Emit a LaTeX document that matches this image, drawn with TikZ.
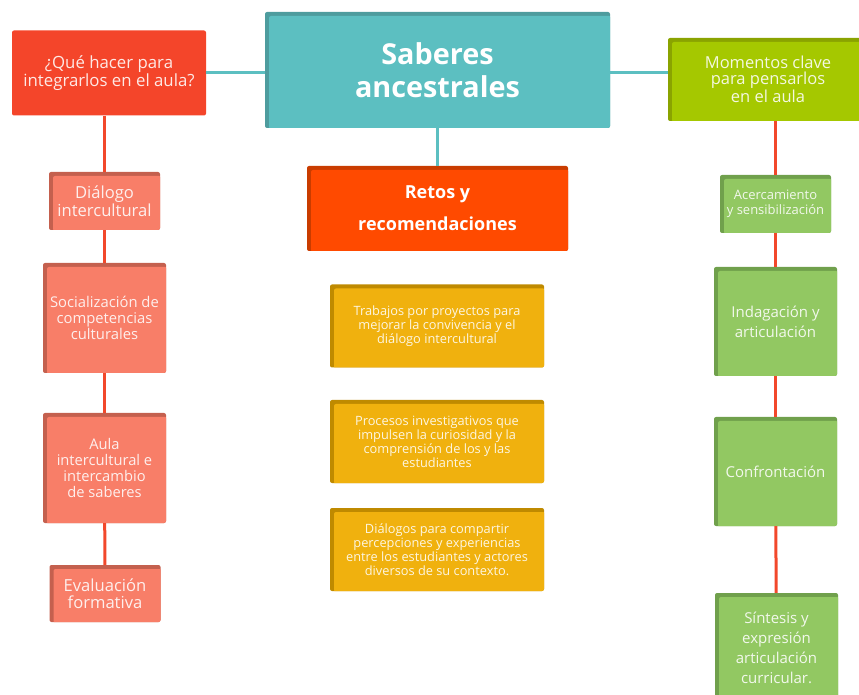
\documentclass[tikz,border=0pt]{standalone}
\usepackage{fontspec}
\setmainfont{Open Sans}

\definecolor{tealA}{HTML}{5CBFC1}
\definecolor{tealB}{HTML}{4E9C9E}
\definecolor{redA}{HTML}{F4452A}
\definecolor{lineRed}{HTML}{F2482B}
\definecolor{salA}{HTML}{F87E68}
\definecolor{salB}{HTML}{C4604E}
\definecolor{limeA}{HTML}{A5C800}
\definecolor{limeB}{HTML}{8AA300}
\definecolor{orA}{HTML}{FF4A00}
\definecolor{orB}{HTML}{C93C00}
\definecolor{yelA}{HTML}{F0B10E}
\definecolor{yelB}{HTML}{BF8A00}
\definecolor{grA}{HTML}{92C862}
\definecolor{grB}{HTML}{70A04C}

\tikzset{
  card/.style 2 args={fill=#2, rounded corners=2pt, align=center, inner sep=0pt,
    text=white!88!#1,
    path picture={\fill[#1] ([xshift=4pt,yshift=-4pt]path picture bounding box.north west)
      rectangle ([xshift=1pt,yshift=-1pt]path picture bounding box.south east);}},
  fs/.style 2 args={font=\fontsize{#1}{#2}\selectfont},
  fsb/.style 2 args={font=\fontsize{#1}{#2}\selectfont\bfseries},
  link/.style={line width=3pt, color=#1}
}

\begin{document}
\begin{tikzpicture}[x=1pt,y=1pt]

\clip (0,0) rectangle (859,694);

\node[card={tealA}{tealB}, minimum width=345pt, minimum height=116pt, fsb={28.8}{33}, text=white]
  (main) at (437.5,624) {Saberes\\ancestrales};
\node[fill=redA, rounded corners=2pt, align=center, text=white!88!redA, minimum width=194pt,
  minimum height=85pt, fs={16.8}{16}] (que) at (109,621) {¿Qué hacer para\\integrarlos en el aula?};
\node[card={limeA}{limeB}, minimum width=200pt, minimum height=83pt, fs={16.5}{16}]
  (momentos) at (768,614.5) {Momentos clave\\para pensarlos\\en el aula};
\node[card={orA}{orB}, minimum width=261pt, minimum height=85pt, fsb={18}{32}, text=white]
  (retos) at (437.5,485.5) {Retos y\\recomendaciones};

\node[card={salA}{salB}, minimum width=111pt, minimum height=58pt, fs={16.6}{18}]
  (dialogo) at (104.5,493) {Diálogo\\intercultural};
\node[card={salA}{salB}, minimum width=123pt, minimum height=110pt, fs={14.8}{16}]
  (social) at (104.5,376) {Socialización de\\competencias\\culturales};
\node[card={salA}{salB}, minimum width=123pt, minimum height=110pt, fs={14.7}{16}]
  (aula) at (104.5,226) {Aula\\intercultural e\\intercambio\\de saberes};
\node[card={salA}{salB}, minimum width=111pt, minimum height=57pt, fs={16.6}{17}]
  (eval) at (105,100.5) {Evaluación\\formativa};

\foreach \name/\y/\txt in {
  trabajos/368/{Trabajos por proyectos para\\mejorar la convivencia y el\\diálogo intercultural},
  procesos/252.5/{Procesos investigativos que\\impulsen la curiosidad y la\\comprensión de los y las\\estudiantes},
  dialogos/144.5/{Diálogos para compartir\\percepciones y experiencias\\entre los estudiantes y actores\\diversos de su contexto.}}
  \node[card={yelA}{yelB}, minimum width=214pt, minimum height=83pt, fs={12.8}{14}]
    (\name) at (437,\y) {\txt};

\node[card={grA}{grB}, minimum width=111pt, minimum height=58pt, fs={13}{15}]
  (acerc) at (775.5,490) {Acercamiento\\y sensibilización};
\node[card={grA}{grB}, minimum width=123pt, minimum height=109pt, fs={15}{20}]
  (indag) at (775.5,372.5) {Indagación y\\articulación};
\node[card={grA}{grB}, minimum width=123pt, minimum height=109pt, fs={15}{20}]
  (confr) at (775.5,222.5) {Confrontación};
\node[card={grA}{grB}, minimum width=123pt, minimum height=110pt, fs={15}{20}]
  (sint) at (776.5,46) {Síntesis y\\expresión\\articulación\\curricular.};

\draw[link=tealA] (que.east) -- (que.east -| main.west);
\draw[link=tealA] (main.east |- que.east) -- (momentos.west |- que.east);
\draw[link=tealA] (main) -- (retos);

\draw[link=lineRed] (que.south -| dialogo) -- (dialogo.north);
\foreach \a/\b in {dialogo/social, social/aula, aula/eval}
  \draw[link=lineRed] (\a) -- (\b);
\draw[link=lineRed] (momentos.south -| acerc) -- (acerc.north);
\foreach \a/\b in {acerc/indag, indag/confr, confr/sint}
  \draw[link=lineRed] (\a) -- (\b);

\end{tikzpicture}
\end{document}
